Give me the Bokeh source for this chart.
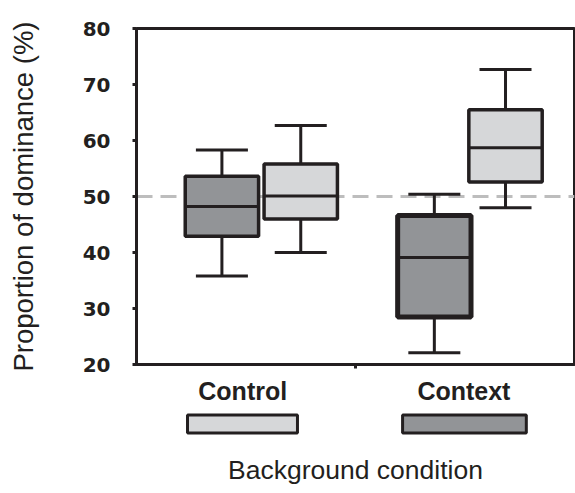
from bokeh.plotting import figure
from bokeh.models import Range1d, FixedTicker, Span
from bokeh.layouts import column
from bokeh.embed import file_html
from bokeh.resources import INLINE

# ---- data ----
groups = ["Control", "Context"]
y_ticks = [20, 30, 40, 50, 60, 70, 80]
reference_level = 50

# dark-grey boxes
dark_lower = [35.8, 22.1]
dark_q1 = [42.9, 28.5]
dark_median = [48.2, 39.1]
dark_q3 = [53.6, 46.6]
dark_upper = [58.3, 50.4]

# light-grey boxes
light_lower = [40.0, 48.0]
light_q1 = [46.0, 52.6]
light_median = [50.1, 58.7]
light_q3 = [55.8, 65.5]
light_upper = [62.7, 72.7]

# legend swatches below the category labels (one per group)
swatch_colors_key = ["light", "dark"]

# ---- layout / style ----
dark_x = [0.78, 2.72]
light_x = [1.50, 3.37]
label_x = [0.97, 2.99]
swatch_left = [0.466, 2.43]
swatch_right = [1.47, 3.56]
box_w = 0.67
cap_w = 0.475
LIGHT = "#d6d7d9"
DARK = "#929497"
INK = "#231f20"
COLORS = {"light": LIGHT, "dark": DARK}

xr = Range1d(0, 4)

p = figure(width=575, height=409, output_backend="svg", toolbar_location=None,
           x_range=xr, y_range=Range1d(20, 80),
           min_border_left=136, min_border_right=1, min_border_top=28, min_border_bottom=45)
p.xgrid.visible = False
p.ygrid.visible = False
p.outline_line_color = INK
p.outline_line_width = 3
p.background_fill_color = "white"
p.border_fill_color = "white"

# y axis
ya = p.yaxis[0]
ya.ticker = FixedTicker(ticks=y_ticks, minor_ticks=[])
ya.axis_line_width = 3
ya.axis_line_color = INK
ya.major_tick_out = 4
ya.major_tick_in = 0
ya.major_tick_line_width = 3
ya.major_tick_line_color = INK
ya.minor_tick_line_color = None
ya.major_label_text_font = "DejaVu Sans"
ya.major_label_text_font_style = "bold"
ya.major_label_text_font_size = "20px"
ya.major_label_text_color = INK
ya.major_label_standoff = 22
ya.axis_label = "Proportion of dominance (%)"
ya.axis_label_text_font = "Liberation Sans"
ya.axis_label_text_font_style = "normal"
ya.axis_label_text_font_size = "27.5px"
ya.axis_label_text_color = INK
ya.axis_label_standoff = 41

# x axis (category labels)
xa = p.xaxis[0]
xa.ticker = FixedTicker(ticks=label_x, minor_ticks=[2.0])
xa.major_label_overrides = {label_x[0]: groups[0], label_x[1]: groups[1]}
xa.axis_line_width = 3
xa.axis_line_color = INK
xa.major_tick_out = 0
xa.major_tick_in = 0
xa.major_tick_line_color = None
xa.minor_tick_out = 4
xa.minor_tick_in = 0
xa.minor_tick_line_width = 3
xa.minor_tick_line_color = INK
xa.major_label_text_font = "Liberation Sans"
xa.major_label_text_font_style = "bold"
xa.major_label_text_font_size = "25px"
xa.major_label_text_color = INK
xa.major_label_standoff = 8

# reference line at 50 %
p.add_layout(Span(location=reference_level, dimension="width", line_color="#bdbdbd",
                  line_width=3, line_dash="16 8", level="underlay"))


def draw_boxes(xs, lower, q1, med, q3, upper, fill, lws):
    p.segment(x0=xs, y0=q3, x1=xs, y1=upper, line_color=INK, line_width=3)
    p.segment(x0=xs, y0=lower, x1=xs, y1=q1, line_color=INK, line_width=3)
    p.segment(x0=[x - cap_w / 2 for x in xs], y0=upper, x1=[x + cap_w / 2 for x in xs], y1=upper,
              line_color=INK, line_width=3)
    p.segment(x0=[x - cap_w / 2 for x in xs], y0=lower, x1=[x + cap_w / 2 for x in xs], y1=lower,
              line_color=INK, line_width=3)
    p.vbar(x=xs, width=box_w, bottom=q1, top=q3, fill_color=fill, line_color=INK, line_width=lws)
    p.segment(x0=[x - box_w / 2 for x in xs], y0=med, x1=[x + box_w / 2 for x in xs], y1=med,
              line_color=INK, line_width=3)


draw_boxes(dark_x, dark_lower, dark_q1, dark_median, dark_q3, dark_upper, DARK, [3.5, 5])
draw_boxes(light_x, light_lower, light_q1, light_median, light_q3, light_upper, LIGHT, [3.5, 3.5])

# ---- lower strip: swatches + x-axis title ----
p2 = figure(width=575, height=84, output_backend="svg", toolbar_location=None,
            x_range=xr, y_range=Range1d(0, 1),
            min_border_left=136, min_border_right=1, min_border_top=0, min_border_bottom=54)
p2.xgrid.visible = False
p2.ygrid.visible = False
p2.outline_line_color = None
p2.yaxis.visible = False
p2.background_fill_color = "white"
p2.border_fill_color = "white"
p2.quad(left=swatch_left, right=swatch_right, top=[0.817, 0.817], bottom=[0.217, 0.217],
        fill_color=[COLORS[k] for k in swatch_colors_key], line_color=INK, line_width=3)
xb = p2.xaxis[0]
xb.ticker = FixedTicker(ticks=[], minor_ticks=[])
xb.axis_line_color = None
xb.major_tick_line_color = None
xb.minor_tick_line_color = None
xb.axis_label = "Background condition"
xb.axis_label_text_font = "Liberation Sans"
xb.axis_label_text_font_style = "normal"
xb.axis_label_text_font_size = "26.5px"
xb.axis_label_text_color = INK
xb.axis_label_standoff = 15

layout = column(p, p2, spacing=0)
open("out.html", "w").write(file_html(layout, INLINE))
